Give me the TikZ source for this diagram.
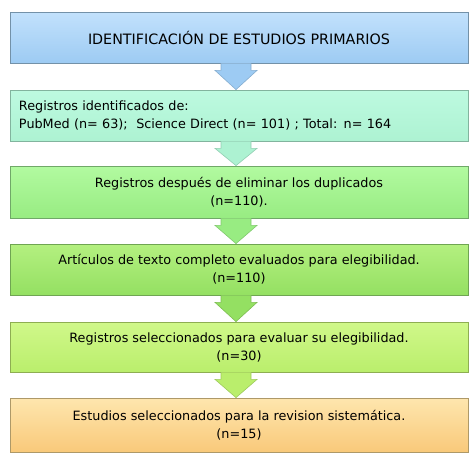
\documentclass[tikz,border=0pt]{standalone}
\usepackage{fontspec}
\setmainfont{DejaVu Sans}
\usepackage{tikz}
\usetikzlibrary{
   calc,
   positioning
}

% box colours
\definecolor{blueTop}{HTML}{C2E1FC}
\definecolor{blueBot}{HTML}{9DCBF3}
\definecolor{blueLine}{HTML}{7391A8}
\definecolor{mintTop}{HTML}{BDFAE0}
\definecolor{mintBot}{HTML}{ADF2D2}
\definecolor{mintLine}{HTML}{82B49E}
\definecolor{greenTop}{HTML}{B2FAA0}
\definecolor{greenBot}{HTML}{98EC82}
\definecolor{greenLine}{HTML}{70A868}
\definecolor{leafTop}{HTML}{B4F080}
\definecolor{leafBot}{HTML}{94E062}
\definecolor{leafLine}{HTML}{6FA552}
\definecolor{limeTop}{HTML}{D0F88A}
\definecolor{limeBot}{HTML}{BAEE6C}
\definecolor{limeLine}{HTML}{8EAE52}
\definecolor{sandTop}{HTML}{FEE6AE}
\definecolor{sandBot}{HTML}{F9C97A}
\definecolor{sandLine}{HTML}{AE9968}

\begin{document}
\begin{tikzpicture}[
    x=1pt, y=-1pt,
    every node/.style={font=\fontsize{12.8}{18}\selectfont, text=black},
    box/.style={rectangle, draw, line width=0.8pt, minimum width=458pt, minimum height=51pt, align=center, inner sep=0pt},
    flow/.style={line width=0.6pt}
]
\useasboundingbox (0,0) rectangle (474,458);

% title box
\node[box, top color=blueTop, bottom color=blueBot, draw=blueLine, font=\fontsize{14.3}{16}\selectfont] (ident) at (239,37.5) {IDENTIFICACIÓN DE ESTUDIOS PRIMARIOS};

% search results
\node[box, top color=mintTop, bottom color=mintBot, draw=mintLine, align=left, text width=440pt] (regs) at (239,115.5) {Registros identificados de:\\PubMed (n= 63);\ \ Science Direct (n= 101) ; Total: n= 164};

% screening steps
\node[box, top color=greenTop, bottom color=greenBot, draw=greenLine, minimum height=52pt] (dupl) at (239,192) {Registros después de eliminar los duplicados\\(n=110).};
\node[box, top color=leafTop, bottom color=leafBot, draw=leafLine] (full) at (239,269.5) {Artículos de texto completo evaluados para elegibilidad.\\(n=110)};
\node[box, top color=limeTop, bottom color=limeBot, draw=limeLine, minimum height=50pt] (elig) at (239,347) {Registros seleccionados para evaluar su elegibilidad.\\(n=30)};

% final studies
\node[box, top color=sandTop, bottom color=sandBot, draw=sandLine, minimum height=54pt] (incl) at (239,425) {Estudios seleccionados para la revision sistemática.\\(n=15)};

% fat arrows between boxes
\foreach \a/\b/\c in {ident/regs/blueBot, regs/dupl/mintBot, dupl/full/greenBot, full/elig/leafBot, elig/incl/limeBot}{
    \draw[flow, fill=\c, draw=\c!85!black]
        ($(\a.south)+(-18,0)$) -- ++(0,7) -- ++(-6,0)
        -- ($(\b.north)+(-3,0)$)
        -- ($(\a.south)+(18,7)$) -- ++(-6,0) -- ($(\a.south)+(12,0)$);
}

\end{tikzpicture}
\end{document}
